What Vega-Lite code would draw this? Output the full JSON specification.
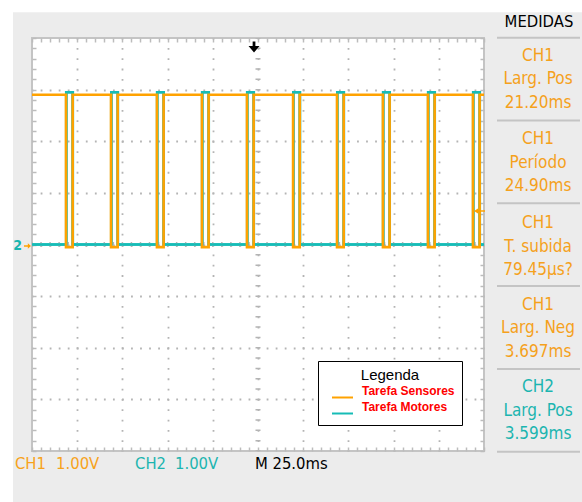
{
  "$schema": "https://vega.github.io/schema/vega-lite/v6.json",
  "width": 452,
  "height": 413,
  "autosize": {"type": "none"},
  "padding": {"left": 32, "top": 38, "right": 98, "bottom": 51},
  "background": "#ececec",
  "config": {
    "view": {"stroke": "#c4c4c4", "strokeWidth": 2, "fill": "white"},
    "text": {"font": "DejaVu Sans Condensed, Liberation Sans"}
  },
  "datasets": {
    "traces": [
      {"s":"Tarefa Sensores","i":0,"t":-125,"v":2.9},
      {"s":"Tarefa Sensores","i":1,"t":-106.2,"v":2.9},
      {"s":"Tarefa Sensores","i":2,"t":-106.2,"v":-0.05},
      {"s":"Tarefa Sensores","i":3,"t":-102.5,"v":-0.05},
      {"s":"Tarefa Sensores","i":4,"t":-102.5,"v":2.9},
      {"s":"Tarefa Sensores","i":5,"t":-81.3,"v":2.9},
      {"s":"Tarefa Sensores","i":6,"t":-81.3,"v":-0.05},
      {"s":"Tarefa Sensores","i":7,"t":-77.6,"v":-0.05},
      {"s":"Tarefa Sensores","i":8,"t":-77.6,"v":2.9},
      {"s":"Tarefa Sensores","i":9,"t":-55.9,"v":2.9},
      {"s":"Tarefa Sensores","i":10,"t":-55.9,"v":-0.05},
      {"s":"Tarefa Sensores","i":11,"t":-52.2,"v":-0.05},
      {"s":"Tarefa Sensores","i":12,"t":-52.2,"v":2.9},
      {"s":"Tarefa Sensores","i":13,"t":-31.0,"v":2.9},
      {"s":"Tarefa Sensores","i":14,"t":-31.0,"v":-0.05},
      {"s":"Tarefa Sensores","i":15,"t":-27.3,"v":-0.05},
      {"s":"Tarefa Sensores","i":16,"t":-27.3,"v":2.9},
      {"s":"Tarefa Sensores","i":17,"t":-6.1,"v":2.9},
      {"s":"Tarefa Sensores","i":18,"t":-6.1,"v":-0.05},
      {"s":"Tarefa Sensores","i":19,"t":-2.4,"v":-0.05},
      {"s":"Tarefa Sensores","i":20,"t":-2.4,"v":2.9},
      {"s":"Tarefa Sensores","i":21,"t":19.4,"v":2.9},
      {"s":"Tarefa Sensores","i":22,"t":19.4,"v":-0.05},
      {"s":"Tarefa Sensores","i":23,"t":23.1,"v":-0.05},
      {"s":"Tarefa Sensores","i":24,"t":23.1,"v":2.9},
      {"s":"Tarefa Sensores","i":25,"t":43.7,"v":2.9},
      {"s":"Tarefa Sensores","i":26,"t":43.7,"v":-0.05},
      {"s":"Tarefa Sensores","i":27,"t":47.4,"v":-0.05},
      {"s":"Tarefa Sensores","i":28,"t":47.4,"v":2.9},
      {"s":"Tarefa Sensores","i":29,"t":69.1,"v":2.9},
      {"s":"Tarefa Sensores","i":30,"t":69.1,"v":-0.05},
      {"s":"Tarefa Sensores","i":31,"t":72.8,"v":-0.05},
      {"s":"Tarefa Sensores","i":32,"t":72.8,"v":2.9},
      {"s":"Tarefa Sensores","i":33,"t":94.0,"v":2.9},
      {"s":"Tarefa Sensores","i":34,"t":94.0,"v":-0.05},
      {"s":"Tarefa Sensores","i":35,"t":97.7,"v":-0.05},
      {"s":"Tarefa Sensores","i":36,"t":97.7,"v":2.9},
      {"s":"Tarefa Sensores","i":37,"t":118.9,"v":2.9},
      {"s":"Tarefa Sensores","i":38,"t":118.9,"v":-0.05},
      {"s":"Tarefa Sensores","i":39,"t":122.6,"v":-0.05},
      {"s":"Tarefa Sensores","i":40,"t":122.6,"v":2.9},
      {"s":"Tarefa Sensores","i":41,"t":125,"v":2.9},
      {"s":"Tarefa Motores","i":0,"t":-125,"v":0},
      {"s":"Tarefa Motores","i":1,"t":-106.05,"v":0},
      {"s":"Tarefa Motores","i":2,"t":-106.05,"v":2.95},
      {"s":"Tarefa Motores","i":3,"t":-102.45,"v":2.95},
      {"s":"Tarefa Motores","i":4,"t":-102.45,"v":0},
      {"s":"Tarefa Motores","i":5,"t":-81.15,"v":0},
      {"s":"Tarefa Motores","i":6,"t":-81.15,"v":2.95},
      {"s":"Tarefa Motores","i":7,"t":-77.55,"v":2.95},
      {"s":"Tarefa Motores","i":8,"t":-77.55,"v":0},
      {"s":"Tarefa Motores","i":9,"t":-55.75,"v":0},
      {"s":"Tarefa Motores","i":10,"t":-55.75,"v":2.95},
      {"s":"Tarefa Motores","i":11,"t":-52.15,"v":2.95},
      {"s":"Tarefa Motores","i":12,"t":-52.15,"v":0},
      {"s":"Tarefa Motores","i":13,"t":-30.85,"v":0},
      {"s":"Tarefa Motores","i":14,"t":-30.85,"v":2.95},
      {"s":"Tarefa Motores","i":15,"t":-27.25,"v":2.95},
      {"s":"Tarefa Motores","i":16,"t":-27.25,"v":0},
      {"s":"Tarefa Motores","i":17,"t":-5.95,"v":0},
      {"s":"Tarefa Motores","i":18,"t":-5.95,"v":2.95},
      {"s":"Tarefa Motores","i":19,"t":-2.35,"v":2.95},
      {"s":"Tarefa Motores","i":20,"t":-2.35,"v":0},
      {"s":"Tarefa Motores","i":21,"t":19.55,"v":0},
      {"s":"Tarefa Motores","i":22,"t":19.55,"v":2.95},
      {"s":"Tarefa Motores","i":23,"t":23.15,"v":2.95},
      {"s":"Tarefa Motores","i":24,"t":23.15,"v":0},
      {"s":"Tarefa Motores","i":25,"t":43.85,"v":0},
      {"s":"Tarefa Motores","i":26,"t":43.85,"v":2.95},
      {"s":"Tarefa Motores","i":27,"t":47.45,"v":2.95},
      {"s":"Tarefa Motores","i":28,"t":47.45,"v":0},
      {"s":"Tarefa Motores","i":29,"t":69.25,"v":0},
      {"s":"Tarefa Motores","i":30,"t":69.25,"v":2.95},
      {"s":"Tarefa Motores","i":31,"t":72.85,"v":2.95},
      {"s":"Tarefa Motores","i":32,"t":72.85,"v":0},
      {"s":"Tarefa Motores","i":33,"t":94.15,"v":0},
      {"s":"Tarefa Motores","i":34,"t":94.15,"v":2.95},
      {"s":"Tarefa Motores","i":35,"t":97.75,"v":2.95},
      {"s":"Tarefa Motores","i":36,"t":97.75,"v":0},
      {"s":"Tarefa Motores","i":37,"t":119.05,"v":0},
      {"s":"Tarefa Motores","i":38,"t":119.05,"v":2.95},
      {"s":"Tarefa Motores","i":39,"t":122.65,"v":2.95},
      {"s":"Tarefa Motores","i":40,"t":122.65,"v":0},
      {"s":"Tarefa Motores","i":41,"t":125,"v":0}
    ]
  },
  "data": {"values": [{}]},
  "resolve": {"axis": {"x": "independent", "y": "independent"}},
  "layer": [
    {
      "mark": {"type": "rect", "color": "white"},
      "encoding": {
        "x": {"datum": -143, "type": "quantitative", "axis": null},
        "x2": {"datum": -135.5},
        "y": {"datum": -5.1, "type": "quantitative", "axis": null},
        "y2": {"datum": 4.8}
      }
    },
    {
      "mark": {"type": "rect", "color": "white"},
      "encoding": {
        "x": {"datum": -143, "type": "quantitative", "axis": null},
        "x2": {"datum": 181},
        "y": {"datum": 4.5, "type": "quantitative", "axis": null},
        "y2": {"datum": 4.8}
      }
    },
    {
      "data": {"name": "traces"},
      "transform": [{"filter": "datum.s === 'Tarefa Motores'"}],
      "mark": {"type": "line", "strokeWidth": 2.6, "interpolate": "linear"},
      "encoding": {
        "x": {
          "field": "t", "type": "quantitative",
          "scale": {"domain": [-125, 125], "nice": false, "zero": false},
          "axis": {
            "orient": "bottom", "title": null, "labels": false, "domain": false,
            "values": [-125,-120,-115,-110,-105,-100,-95,-90,-85,-80,-75,-70,-65,-60,-55,-50,-45,-40,-35,-30,-25,-20,-15,-10,-5,0,5,10,15,20,25,30,35,40,45,50,55,60,65,70,75,80,85,90,95,100,105,110,115,120,125],
            "ticks": true, "tickSize": -4, "tickColor": "#bcbcbc", "tickWidth": 1.5,
            "grid": true, "gridColor": "#b4b4b4", "gridWidth": 1.8,
            "gridDash": [1.8, 8.525], "gridDashOffset": 0.9,
            "gridOpacity": {"condition": {"test": "datum.value % 25 === 0 && abs(datum.value) < 125", "value": 1}, "value": 0}
          }
        },
        "y": {
          "field": "v", "type": "quantitative",
          "scale": {"domain": [-4, 4], "nice": false, "zero": false},
          "axis": {
            "orient": "left", "title": null, "labels": false, "domain": false,
            "values": [-4,-3.8,-3.6,-3.4,-3.2,-3,-2.8,-2.6,-2.4,-2.2,-2,-1.8,-1.6,-1.4,-1.2,-1,-0.8,-0.6,-0.4,-0.2,0,0.2,0.4,0.6,0.8,1,1.2,1.4,1.6,1.8,2,2.2,2.4,2.6,2.8,3,3.2,3.4,3.6,3.8,4],
            "ticks": true, "tickSize": -4, "tickColor": "#bcbcbc", "tickWidth": 1.5,
            "grid": true, "gridColor": "#b4b4b4", "gridWidth": 1.8,
            "gridDash": [1.8, 7.24], "gridDashOffset": 0.9,
            "gridOpacity": {"condition": {"test": "abs(datum.value - round(datum.value)) < 0.01 && abs(datum.value) < 3.99", "value": 1}, "value": 0}
          }
        },
        "order": {"field": "i", "type": "quantitative"},
        "color": {
          "field": "s", "type": "nominal",
          "scale": {"domain": ["Tarefa Sensores", "Tarefa Motores"], "range": ["#ffa200", "#16bcb6"]},
          "legend": {
            "title": "Legenda", "orient": "none", "legendX": 286, "legendY": 323,
            "direction": "vertical", "symbolType": "stroke", "symbolSize": 441, "symbolStrokeWidth": 2,
            "symbolOffset": 6, "labelOffset": 8, "labelBaseline": "bottom",
            "labelColor": "#ff0000", "labelFont": "Liberation Sans", "labelFontWeight": "bold", "labelFontSize": 12,
            "titleFont": "Liberation Sans", "titleFontSize": 15, "titleFontWeight": "normal", "titleColor": "black",
            "titleAnchor": "middle", "titlePadding": 3,
            "padding": 7, "rowPadding": -5, "strokeColor": "black", "fillColor": "white"
          }
        }
      }
    },
    {
      "mark": {"type": "rule", "color": "#b4b4b4", "strokeWidth": 5, "strokeDash": [1.5, 8.825], "strokeDashOffset": 0.75},
      "encoding": {"x": {"datum": 0, "type": "quantitative", "axis": null}}
    },
    {
      "mark": {"type": "rule", "color": "#b4b4b4", "strokeWidth": 5, "strokeDash": [1.5, 7.54], "strokeDashOffset": 0.75},
      "encoding": {"y": {"datum": 0, "type": "quantitative", "axis": null}}
    },
    {
      "data": {"name": "traces"},
      "transform": [{"filter": "datum.s === 'Tarefa Motores'"}],
      "mark": {"type": "line", "strokeWidth": 2.6},
      "encoding": {
        "x": {"field": "t", "type": "quantitative", "axis": null},
        "y": {"field": "v", "type": "quantitative", "axis": null},
        "order": {"field": "i", "type": "quantitative"},
        "color": {"field": "s", "type": "nominal"}
      }
    },
    {
      "data": {"name": "traces"},
      "transform": [{"filter": "datum.s === 'Tarefa Sensores'"}],
      "mark": {"type": "line", "strokeWidth": 2.6},
      "encoding": {
        "x": {
          "field": "t", "type": "quantitative",
          "axis": {
            "orient": "top", "title": null, "labels": false, "domain": false, "grid": false,
            "values": [-125,-120,-115,-110,-105,-100,-95,-90,-85,-80,-75,-70,-65,-60,-55,-50,-45,-40,-35,-30,-25,-20,-15,-10,-5,0,5,10,15,20,25,30,35,40,45,50,55,60,65,70,75,80,85,90,95,100,105,110,115,120,125],
            "ticks": true, "tickSize": -4, "tickColor": "#bcbcbc", "tickWidth": 1.5
          }
        },
        "y": {
          "field": "v", "type": "quantitative",
          "axis": {
            "orient": "right", "title": null, "labels": false, "domain": false, "grid": false,
            "values": [-4,-3.8,-3.6,-3.4,-3.2,-3,-2.8,-2.6,-2.4,-2.2,-2,-1.8,-1.6,-1.4,-1.2,-1,-0.8,-0.6,-0.4,-0.2,0,0.2,0.4,0.6,0.8,1,1.2,1.4,1.6,1.8,2,2.2,2.4,2.6,2.8,3,3.2,3.4,3.6,3.8,4],
            "ticks": true, "tickSize": -4, "tickColor": "#bcbcbc", "tickWidth": 1.5
          }
        },
        "order": {"field": "i", "type": "quantitative"},
        "color": {"field": "s", "type": "nominal"}
      }
    },
    {
      "mark": {"type": "text", "text": "2", "color": "#16b5b0", "fontSize": 14, "fontWeight": "bold", "align": "center", "baseline": "middle"},
      "encoding": {"x": {"datum": -133, "type": "quantitative", "axis": null}, "y": {"datum": -0.03, "type": "quantitative", "axis": null}}
    },
    {
      "mark": {"type": "point", "shape": "M-1,-0.2L0.1,-0.2L0.1,-0.8L1,0L0.1,0.8L0.1,0.2L-1,0.2Z", "filled": true, "opacity": 1, "color": "#ffa200", "size": 49},
      "encoding": {"x": {"datum": -127.5, "type": "quantitative", "axis": null}, "y": {"datum": -0.03, "type": "quantitative", "axis": null}}
    },
    {
      "mark": {"type": "point", "shape": "M1,-0.15L-0.2,-0.15L-0.2,-0.5L-1,0L-0.2,0.5L-0.2,0.15L1,0.15Z", "filled": true, "opacity": 1, "color": "#ffa200", "size": 121},
      "encoding": {"x": {"datum": 122.5, "type": "quantitative", "axis": null}, "y": {"datum": 0.649, "type": "quantitative", "axis": null}}
    },
    {
      "mark": {"type": "point", "shape": "M-0.25,-1L0.25,-1L0.25,-0.2L1,-0.2L0,1L-1,-0.2L-0.25,-0.2Z", "filled": true, "opacity": 1, "color": "black", "size": 121},
      "encoding": {"x": {"datum": -2.2, "type": "quantitative", "axis": null}, "y": {"datum": 3.826, "type": "quantitative", "axis": null}}
    },
    {
      "mark": {"type": "text", "text": "CH1", "color": "#f7a21b", "fontSize": 16.5, "align": "left", "baseline": "middle"},
      "encoding": {"x": {"datum": -134.4, "type": "quantitative", "axis": null}, "y": {"datum": -4.25, "type": "quantitative", "axis": null}}
    },
    {
      "mark": {"type": "text", "text": "1.00V", "color": "#f7a21b", "fontSize": 16.5, "align": "left", "baseline": "middle"},
      "encoding": {"x": {"datum": -111.7, "type": "quantitative", "axis": null}, "y": {"datum": -4.25, "type": "quantitative", "axis": null}}
    },
    {
      "mark": {"type": "text", "text": "CH2", "color": "#1cb5b0", "fontSize": 16.5, "align": "left", "baseline": "middle"},
      "encoding": {"x": {"datum": -68.0, "type": "quantitative", "axis": null}, "y": {"datum": -4.25, "type": "quantitative", "axis": null}}
    },
    {
      "mark": {"type": "text", "text": "1.00V", "color": "#1cb5b0", "fontSize": 16.5, "align": "left", "baseline": "middle"},
      "encoding": {"x": {"datum": -45.9, "type": "quantitative", "axis": null}, "y": {"datum": -4.25, "type": "quantitative", "axis": null}}
    },
    {
      "mark": {"type": "text", "text": "M 25.0ms", "color": "black", "fontSize": 16.5, "align": "left", "baseline": "middle"},
      "encoding": {"x": {"datum": -1.7, "type": "quantitative", "axis": null}, "y": {"datum": -4.25, "type": "quantitative", "axis": null}}
    },
    {
      "mark": {"type": "text", "text": "MEDIDAS", "color": "black", "fontSize": 16.5, "align": "center", "baseline": "middle"},
      "encoding": {"x": {"datum": 155.4, "type": "quantitative", "axis": null}, "y": {"datum": 4.31, "type": "quantitative", "axis": null}}
    },
    {
      "mark": {"type": "rule", "color": "#c4c4c4", "strokeWidth": 2},
      "encoding": {"x": {"datum": 132.2, "type": "quantitative", "axis": null}, "x2": {"datum": 178.1}, "y": {"datum": 4.006, "type": "quantitative", "axis": null}}
    },
    {
      "mark": {"type": "rule", "color": "#c4c4c4", "strokeWidth": 2},
      "encoding": {"x": {"datum": 132.2, "type": "quantitative", "axis": null}, "x2": {"datum": 178.1}, "y": {"datum": 2.402, "type": "quantitative", "axis": null}}
    },
    {
      "mark": {"type": "rule", "color": "#c4c4c4", "strokeWidth": 2},
      "encoding": {"x": {"datum": 132.2, "type": "quantitative", "axis": null}, "x2": {"datum": 178.1}, "y": {"datum": 0.798, "type": "quantitative", "axis": null}}
    },
    {
      "mark": {"type": "rule", "color": "#c4c4c4", "strokeWidth": 2},
      "encoding": {"x": {"datum": 132.2, "type": "quantitative", "axis": null}, "x2": {"datum": 178.1}, "y": {"datum": -0.804, "type": "quantitative", "axis": null}}
    },
    {
      "mark": {"type": "rule", "color": "#c4c4c4", "strokeWidth": 2},
      "encoding": {"x": {"datum": 132.2, "type": "quantitative", "axis": null}, "x2": {"datum": 178.1}, "y": {"datum": -2.412, "type": "quantitative", "axis": null}}
    },
    {
      "mark": {"type": "rule", "color": "#c4c4c4", "strokeWidth": 2},
      "encoding": {"x": {"datum": 132.2, "type": "quantitative", "axis": null}, "x2": {"datum": 178.1}, "y": {"datum": -4.014, "type": "quantitative", "axis": null}}
    },
    {
      "mark": {"type": "text", "text": ["CH1", "Larg. Pos", "21.20ms"], "lineHeight": 23.5, "color": "#f5a11c", "fontSize": 17, "align": "center", "baseline": "middle"},
      "encoding": {"x": {"datum": 154.9, "type": "quantitative", "axis": null}, "y": {"datum": 3.661, "type": "quantitative", "axis": null}}
    },
    {
      "mark": {"type": "text", "text": ["CH1", "Período", "24.90ms"], "lineHeight": 23.5, "color": "#f5a11c", "fontSize": 17, "align": "center", "baseline": "middle"},
      "encoding": {"x": {"datum": 154.9, "type": "quantitative", "axis": null}, "y": {"datum": 2.04, "type": "quantitative", "axis": null}}
    },
    {
      "mark": {"type": "text", "text": ["CH1", "T. subida", "79.45µs?"], "lineHeight": 23.5, "color": "#f5a11c", "fontSize": 17, "align": "center", "baseline": "middle"},
      "encoding": {"x": {"datum": 154.9, "type": "quantitative", "axis": null}, "y": {"datum": 0.412, "type": "quantitative", "axis": null}}
    },
    {
      "mark": {"type": "text", "text": ["CH1", "Larg. Neg", "3.697ms"], "lineHeight": 23.5, "color": "#f5a11c", "fontSize": 17, "align": "center", "baseline": "middle"},
      "encoding": {"x": {"datum": 154.9, "type": "quantitative", "axis": null}, "y": {"datum": -1.168, "type": "quantitative", "axis": null}}
    },
    {
      "mark": {"type": "text", "text": ["CH2", "Larg. Pos", "3.599ms"], "lineHeight": 23.5, "color": "#1cb5b0", "fontSize": 17, "align": "center", "baseline": "middle"},
      "encoding": {"x": {"datum": 154.9, "type": "quantitative", "axis": null}, "y": {"datum": -2.764, "type": "quantitative", "axis": null}}
    }
  ]
}
